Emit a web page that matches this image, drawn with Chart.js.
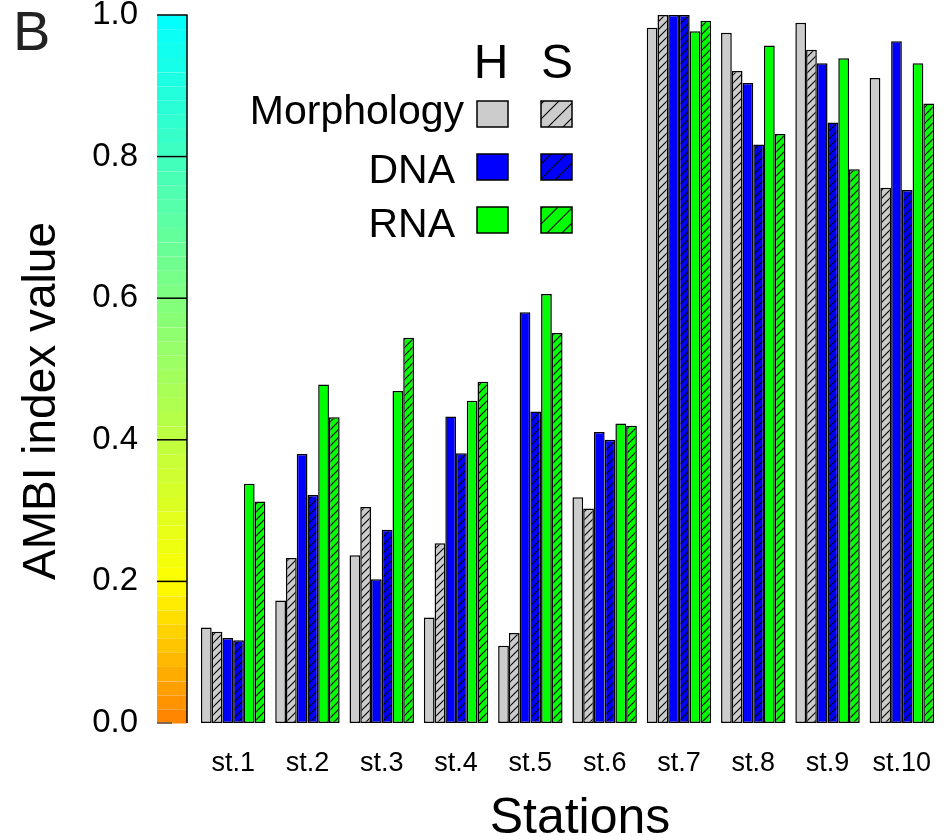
<!DOCTYPE html>
<html><head><meta charset="utf-8">
<script src="https://cdn.jsdelivr.net/npm/chart.js@4/dist/chart.umd.min.js"></script>
<style>html,body{margin:0;padding:0;background:#fff;}</style>
</head><body>
<canvas id="c" width="950" height="836"></canvas>
<script>
// ---- data ----
const stations = ['st.1','st.2','st.3','st.4','st.5','st.6','st.7','st.8','st.9','st.10'];
const yTicks = [0.0, 0.2, 0.4, 0.6, 0.8, 1.0];
const morphologyH = [0.135, 0.173, 0.237, 0.149, 0.109, 0.319, 0.982, 0.975, 0.989, 0.911];
const morphologyS = [0.129, 0.233, 0.305, 0.254, 0.127, 0.303, 1.000, 0.921, 0.951, 0.756];
const dnaH        = [0.120, 0.380, 0.203, 0.433, 0.580, 0.411, 1.000, 0.904, 0.932, 0.963];
const dnaS        = [0.117, 0.322, 0.273, 0.381, 0.440, 0.400, 1.000, 0.817, 0.848, 0.753];
const rnaH        = [0.338, 0.478, 0.469, 0.455, 0.606, 0.423, 0.977, 0.957, 0.939, 0.932];
const rnaS        = [0.313, 0.432, 0.544, 0.482, 0.551, 0.420, 0.992, 0.832, 0.782, 0.875];
const rowNames = ['Morphology', 'DNA', 'RNA'];
const colHeads = ['H', 'S'];
const yTitle = 'AMBI index value';
const xTitle = 'Stations';
const panelLabel = 'B';

// ---- styles ----
const FONT = "'Liberation Sans', Arial, Helvetica, sans-serif";
const GRAY = '#cccccc', BLUE = '#0000ff', GREEN = '#00ff00';
const canvas = document.getElementById('c');
const ctx0 = canvas.getContext('2d');

function hatch(bg, p) {
  const c = document.createElement('canvas');
  c.width = p; c.height = p;
  const g = c.getContext('2d');
  g.fillStyle = bg; g.fillRect(0, 0, p, p);
  g.strokeStyle = '#000'; g.lineWidth = 1.1;
  g.beginPath();
  g.moveTo(-1, p + 1); g.lineTo(p + 1, -1);
  g.moveTo(-p / 2 - 1, p / 2 + 1); g.lineTo(p / 2 + 1, -p / 2 - 1);
  g.moveTo(p / 2 - 1, p * 1.5 + 1); g.lineTo(p * 1.5 + 1, p / 2 - 1);
  g.stroke();
  return ctx0.createPattern(c, 'repeat');
}

const fills = [
  [GRAY, hatch(GRAY, 8), hatch(GRAY, 15)],
  [BLUE, hatch(BLUE, 8), hatch(BLUE, 15)],
  [GREEN, hatch(GREEN, 8), hatch(GREEN, 15)]
];

function mk(label, data, fill) {
  return {
    label, data,
    backgroundColor: fill,
    borderColor: '#000',
    borderWidth: 1.5,
    borderSkipped: false,
    categoryPercentage: 0.867,
    barPercentage: 1.0
  };
}

function barColor(v) {
  if (v <= 0.2) {
    const t = v / 0.2;
    return `rgb(255,${Math.round(128 + 127 * t)},0)`;
  }
  const t = (v - 0.2) / 0.8;
  return `rgb(${Math.round(255 * (1 - t))},255,${Math.round(255 * t)})`;
}

const decor = {
  id: 'decor',
  beforeDatasetsDraw(chart) {
    const ctx = chart.ctx, y = chart.scales.y;
    const x0 = 157, x1 = 187;
    ctx.save();
    const step = 0.02;
    for (let v = 0; v < 0.9999; v += step) {
      const ya = y.getPixelForValue(v), yb = y.getPixelForValue(v + step);
      ctx.fillStyle = barColor(v + step / 2);
      ctx.fillRect(x0, yb, x1 - x0, ya - yb + 0.5);
      ctx.fillStyle = 'rgba(255,255,255,0.35)';
      ctx.fillRect(x0, Math.round(yb), x1 - x0, 1);
    }
    ctx.strokeStyle = '#000';
    ctx.lineWidth = 1.5;
    ctx.beginPath();
    const yt = y.getPixelForValue(1), y0 = y.getPixelForValue(0);
    ctx.moveTo(x0, yt); ctx.lineTo(x1, yt); ctx.lineTo(x1, y0);
    ctx.stroke();
    yTicks.forEach(v => {
      if (v <= 0 || v >= 1) return;
      const p = y.getPixelForValue(v);
      ctx.beginPath(); ctx.moveTo(x0, p); ctx.lineTo(x1, p); ctx.stroke();
    });
    ctx.strokeStyle = '#555';
    ctx.beginPath(); ctx.moveTo(x0, y0); ctx.lineTo(x0 + 15, y0); ctx.stroke();
    ctx.restore();
  },
  afterDraw(chart) {
    const ctx = chart.ctx;
    ctx.save();
    // panel label
    ctx.fillStyle = '#222';
    ctx.font = `56px ${FONT}`;
    ctx.textAlign = 'left'; ctx.textBaseline = 'alphabetic';
    ctx.fillText(panelLabel, 13, 50);
    // axis titles
    ctx.fillStyle = '#000';
    ctx.font = `46px ${FONT}`;
    ctx.save();
    ctx.translate(42, 401);
    ctx.rotate(-Math.PI / 2);
    ctx.textAlign = 'center'; ctx.textBaseline = 'middle';
    ctx.fillText(yTitle, 0, 0);
    ctx.restore();
    ctx.font = `50px ${FONT}`;
    ctx.textAlign = 'center'; ctx.textBaseline = 'alphabetic';
    ctx.fillText(xTitle, 580, 833);
    // legend
    ctx.font = `48px ${FONT}`;
    ctx.fillText(colHeads[0], 491, 78);
    ctx.fillText(colHeads[1], 557, 78);
    ctx.font = `41px ${FONT}`;
    ctx.textAlign = 'right';
    const rows = [
      { tx: 464, base: 124, top: 101 },
      { tx: 455, base: 183, top: 154 },
      { tx: 455, base: 237, top: 207 }
    ];
    rows.forEach((r, i) => {
      ctx.fillStyle = '#000';
      ctx.fillText(rowNames[i], r.tx, r.base);
      ctx.lineWidth = 1.5; ctx.strokeStyle = '#000';
      ctx.fillStyle = fills[i][0];
      ctx.fillRect(477, r.top, 31, 26); ctx.strokeRect(477, r.top, 31, 26);
      ctx.fillStyle = fills[i][2];
      ctx.fillRect(541, r.top, 31, 26); ctx.strokeRect(541, r.top, 31, 26);
    });
    ctx.restore();
  }
};

new Chart(canvas, {
  type: 'bar',
  data: {
    labels: stations,
    datasets: [
      mk('Morphology H', morphologyH, fills[0][0]),
      mk('Morphology S', morphologyS, fills[0][1]),
      mk('DNA H', dnaH, fills[1][0]),
      mk('DNA S', dnaS, fills[1][1]),
      mk('RNA H', rnaH, fills[2][0]),
      mk('RNA S', rnaS, fills[2][1])
    ]
  },
  options: {
    responsive: false,
    devicePixelRatio: 1,
    animation: false,
    layout: { padding: { top: 15, right: 11, left: 0, bottom: 0 } },
    plugins: { legend: { display: false }, tooltip: { enabled: false } },
    scales: {
      x: {
        grid: { display: false, drawTicks: false },
        border: { display: false },
        ticks: { padding: 24, color: '#000', maxRotation: 0, autoSkip: false,
                 font: { size: 27, family: FONT } },
        afterFit(s) { s.height = 113; s.paddingLeft = 0; s.paddingRight = 0; }
      },
      y: {
        min: 0, max: 1,
        grid: { display: false, drawTicks: false },
        border: { display: false },
        afterBuildTicks(s) { s.ticks = yTicks.map(v => ({ value: v })); },
        ticks: { padding: 58, color: '#000', font: { size: 33, family: FONT },
                 callback: v => Number(v).toFixed(1) },
        afterFit(s) { s.width = 196; s.paddingTop = 0; s.paddingBottom = 0; }
      }
    }
  },
  plugins: [decor]
});
</script>
</body></html>
